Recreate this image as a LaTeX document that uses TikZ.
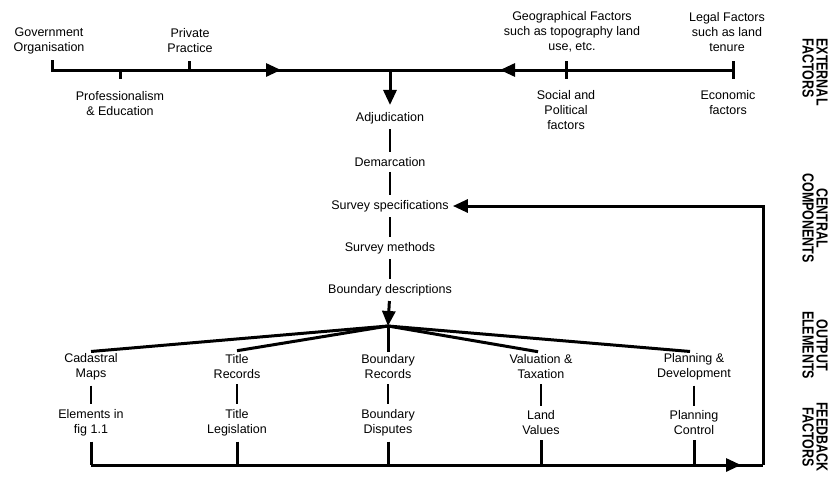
\documentclass[tikz,border=0pt]{standalone}
\usepackage{fontspec}
\usepackage{graphicx}
\setmainfont{Liberation Sans}
\usetikzlibrary{arrows.meta}
\newcommand{\nw}[1]{\scalebox{0.78}[1]{#1}}
\begin{document}
\begin{tikzpicture}[x=1pt,y=-1pt,
  lbl/.style={font=\fontsize{12.5}{15}\selectfont, align=center, inner sep=2pt},
  side/.style={font=\fontsize{16}{14}\selectfont\bfseries, inner sep=0pt, rotate=-90},
  main/.style={line width=3pt},
  link/.style={line width=2.4pt, shorten <=3pt, shorten >=3pt},
  tip/.style={-{Triangle[length=15pt,width=13pt]}}
]
\useasboundingbox (0,0) rectangle (834,477);

% ---- external factors -------------------------------------------------
\node[lbl] (gov) at (49,40.5) {Government\\Organisation};
\node[lbl] (pp)  at (190,40.5) {Private\\Practice};
\node[lbl] (pe)  at (120,103.5) {Professionalism\\\& Education};
\node[lbl] (geo) at (572,32) {Geographical Factors\\such as topography land\\use, etc.};
\node[lbl] (leg) at (727,32) {Legal Factors\\such as land\\tenure};
\node[lbl] (soc) at (566,110) {Social and\\Political\\factors};
\node[lbl] (eco) at (728,102.5) {Economic\\factors};

\coordinate (tl) at (52,70);
\coordinate (tr) at (733,70);
\coordinate (tj) at (390,70);
\coordinate (a1) at (281,70);
\coordinate (a2) at (500,70);
\coordinate (tgov) at (52,60);
\coordinate (tpe)  at (120,79);
\coordinate (tpp)  at (189,61);
\coordinate (tsa)  at (566,61);
\coordinate (tsb)  at (566,79);
\coordinate (tla)  at (733,61);
\coordinate (tlb)  at (733,79);

% continuous top line, arrow heads laid over it
\draw[main] (tgov) -- (tl) -- (tr);
\draw[main,tip] (tl) -- (a1);
\draw[main,tip] (tr) -- (a2);
\draw[main] (tpe |- tl) -- (tpe);
\draw[main] (tpp |- tl) -- (tpp);
\draw[main] (tsa) -- (tsb);
\draw[main] (tla) -- (tlb);

% ---- central components -----------------------------------------------
\node[lbl] (adj) at (390,118) {Adjudication};
\node[lbl] (dem) at (390,162) {Demarcation};
\node[lbl] (ss)  at (390,206) {Survey specifications};
\node[lbl] (sm)  at (390,248) {Survey methods};
\node[lbl] (bd)  at (390,290) {Boundary descriptions};

\draw[main,tip,shorten >=5pt] (tj) -- (adj);
\draw[link] (adj) -- (dem);
\draw[link] (dem) -- (ss);
\draw[link] (ss) -- (sm);
\draw[link] (sm) -- (bd);

% ---- output elements --------------------------------------------------
\coordinate (fan) at (388,326);
\draw[main,tip,shorten <=3pt] (bd) -- (fan);

\node[lbl] (cad) at (91,367)  {Cadastral\\Maps};
\node[lbl] (tit) at (237,367) {Title\\Records};
\node[lbl] (bre) at (388,367) {Boundary\\Records};
\node[lbl] (val) at (541,367) {Valuation \&\\Taxation};
\node[lbl] (pla) at (694,367) {Planning \&\\Development};

\draw[main] (fan) -- (cad.north);
\draw[main] (fan) -- ([yshift=2pt]tit.north);
\draw[main] (fan) -- ([yshift=1pt]bre.north);
\draw[main] (fan) -- ([xshift=-3pt,yshift=1pt]val.north);
\draw[main] (fan) -- ([xshift=-4pt]pla.north);

% ---- feedback factors -------------------------------------------------
\node[lbl] (elm) at (91,423)  {Elements in\\fig 1.1};
\node[lbl] (tle) at (237,423) {Title\\Legislation};
\node[lbl] (bdi) at (388,423) {Boundary\\Disputes};
\node[lbl] (lva) at (541,423) {Land\\Values};
\node[lbl] (pco) at (694,423) {Planning\\Control};

\draw[link] (cad) -- (elm);
\draw[link] (tit) -- (tle);
\draw[link] (bre) -- (bdi);
\draw[link] (val) -- (lva);
\draw[link] (pla) -- (pco);

\coordinate (bl)  at (91,465);
\coordinate (ba)  at (741,465);
\coordinate (fbr) at (763,465);
\coordinate (fbt) at (763,206);

\draw[main,shorten <=3pt] (elm) -- (elm |- bl);
\draw[main,shorten <=3pt] (tle) -- (tle |- bl);
\draw[main,shorten <=3pt] (bdi) -- (bdi |- bl);
\draw[main,shorten <=3pt] (lva) -- (lva |- bl);
\draw[main,shorten <=3pt] (pco) -- (pco |- bl);

% feedback loop back to the survey specifications
\draw[main] (bl) -- (fbr);
\draw[main,tip] (bl) -- (ba);
\draw[main,tip,shorten >=2pt] (fbr) -- (fbt) -- (ss.east);

% ---- section captions -------------------------------------------------
\node[side,align=left]   (cext) at (815,72)  {\nw{EXTERNAL}\\\nw{FACTORS}};
\node[side,align=center] (ccen) at (815,218) {\nw{CENTRAL}\\\nw{COMPONENTS}};
\node[side,align=center] (cout) at (815,345) {\nw{OUTPUT}\\\nw{ELEMENTS}};
\node[side,align=center] (cfee) at (815,437) {\nw{FEEDBACK}\\\nw{FACTORS}};
\end{tikzpicture}
\end{document}
